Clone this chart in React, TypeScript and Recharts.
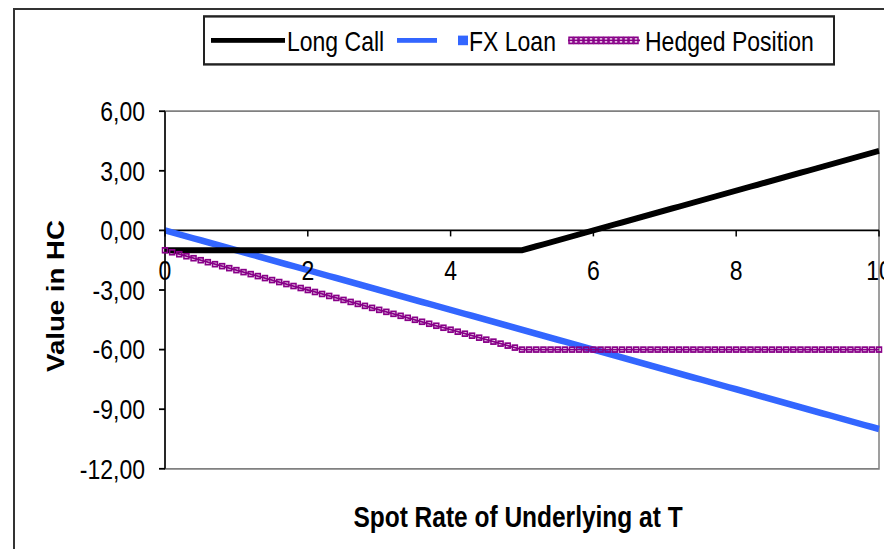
import React from "react"
import {
  LineChart,
  Line,
  XAxis,
  YAxis,
  Legend,
  ReferenceLine,
  ReferenceArea,
} from "recharts"

// spot rate of the underlying at T
const spot = [
  0, 0.1, 0.2, 0.3, 0.4, 0.5, 0.6, 0.7, 0.8, 0.9,
  1, 1.1, 1.2, 1.3, 1.4, 1.5, 1.6, 1.7, 1.8, 1.9,
  2, 2.1, 2.2, 2.3, 2.4, 2.5, 2.6, 2.7, 2.8, 2.9,
  3, 3.1, 3.2, 3.3, 3.4, 3.5, 3.6, 3.7, 3.8, 3.9,
  4, 4.1, 4.2, 4.3, 4.4, 4.5, 4.6, 4.7, 4.8, 4.9,
  5, 5.1, 5.2, 5.3, 5.4, 5.5, 5.6, 5.7, 5.8, 5.9,
  6, 6.1, 6.2, 6.3, 6.4, 6.5, 6.6, 6.7, 6.8, 6.9,
  7, 7.1, 7.2, 7.3, 7.4, 7.5, 7.6, 7.7, 7.8, 7.9,
  8, 8.1, 8.2, 8.3, 8.4, 8.5, 8.6, 8.7, 8.8, 8.9,
  9, 9.1, 9.2, 9.3, 9.4, 9.5, 9.6, 9.7, 9.8, 9.9,
  10,
]

const longCall = [
  -1, -1, -1, -1, -1, -1, -1, -1, -1, -1,
  -1, -1, -1, -1, -1, -1, -1, -1, -1, -1,
  -1, -1, -1, -1, -1, -1, -1, -1, -1, -1,
  -1, -1, -1, -1, -1, -1, -1, -1, -1, -1,
  -1, -1, -1, -1, -1, -1, -1, -1, -1, -1,
  -1, -0.9, -0.8, -0.7, -0.6, -0.5, -0.4, -0.3, -0.2, -0.1,
  0, 0.1, 0.2, 0.3, 0.4, 0.5, 0.6, 0.7, 0.8, 0.9,
  1, 1.1, 1.2, 1.3, 1.4, 1.5, 1.6, 1.7, 1.8, 1.9,
  2, 2.1, 2.2, 2.3, 2.4, 2.5, 2.6, 2.7, 2.8, 2.9,
  3, 3.1, 3.2, 3.3, 3.4, 3.5, 3.6, 3.7, 3.8, 3.9,
  4,
]

const fxLoan = [
  0, -0.1, -0.2, -0.3, -0.4, -0.5, -0.6, -0.7, -0.8, -0.9,
  -1, -1.1, -1.2, -1.3, -1.4, -1.5, -1.6, -1.7, -1.8, -1.9,
  -2, -2.1, -2.2, -2.3, -2.4, -2.5, -2.6, -2.7, -2.8, -2.9,
  -3, -3.1, -3.2, -3.3, -3.4, -3.5, -3.6, -3.7, -3.8, -3.9,
  -4, -4.1, -4.2, -4.3, -4.4, -4.5, -4.6, -4.7, -4.8, -4.9,
  -5, -5.1, -5.2, -5.3, -5.4, -5.5, -5.6, -5.7, -5.8, -5.9,
  -6, -6.1, -6.2, -6.3, -6.4, -6.5, -6.6, -6.7, -6.8, -6.9,
  -7, -7.1, -7.2, -7.3, -7.4, -7.5, -7.6, -7.7, -7.8, -7.9,
  -8, -8.1, -8.2, -8.3, -8.4, -8.5, -8.6, -8.7, -8.8, -8.9,
  -9, -9.1, -9.2, -9.3, -9.4, -9.5, -9.6, -9.7, -9.8, -9.9,
  -10,
]

const hedged = [
  -1, -1.1, -1.2, -1.3, -1.4, -1.5, -1.6, -1.7, -1.8, -1.9,
  -2, -2.1, -2.2, -2.3, -2.4, -2.5, -2.6, -2.7, -2.8, -2.9,
  -3, -3.1, -3.2, -3.3, -3.4, -3.5, -3.6, -3.7, -3.8, -3.9,
  -4, -4.1, -4.2, -4.3, -4.4, -4.5, -4.6, -4.7, -4.8, -4.9,
  -5, -5.1, -5.2, -5.3, -5.4, -5.5, -5.6, -5.7, -5.8, -5.9,
  -6, -6, -6, -6, -6, -6, -6, -6, -6, -6,
  -6, -6, -6, -6, -6, -6, -6, -6, -6, -6,
  -6, -6, -6, -6, -6, -6, -6, -6, -6, -6,
  -6, -6, -6, -6, -6, -6, -6, -6, -6, -6,
  -6, -6, -6, -6, -6, -6, -6, -6, -6, -6,
  -6,
]

const xTicks = [0, 2, 4, 6, 8, 10]
const yTicks = [-12, -9, -6, -3, 0, 3, 6]

const data = spot.map((s, i) => ({
  spot: s,
  longCall: longCall[i],
  fxLoan: fxLoan[i],
  hedged: hedged[i],
}))

const FONT = '"Liberation Sans", Arial, sans-serif'
const BLUE = "#3366FF"
const PURPLE = "#880088"

// chart box (drawn at 1/1.2 height, then stretched like the original)
const W = 884
const H = 450
const TOP = 86
const RIGHT = 13
const BOTTOM_AXIS = 60
const BOTTOM_MARGIN = 6
const PLOT_H = H - TOP - BOTTOM_AXIS - BOTTOM_MARGIN
const ZERO_Y = TOP + (PLOT_H * 6) / 18

const XTick = (props: any) => {
  const { x, payload } = props
  return (
    <g>
      <line x1={x} x2={x} y1={ZERO_Y} y2={ZERO_Y + 5} stroke="#000" strokeWidth={1.5} />
      <text
        x={x}
        y={ZERO_Y + 33}
        textAnchor="middle"
        dominantBaseline="central"
        fontFamily={FONT}
        fontSize={23}
        fill="#000"
      >
        {payload.value}
      </text>
    </g>
  )
}

const HedgedDot = (props: any) => {
  const { cx, cy, index } = props
  return (
    <rect
      key={`h-${index}`}
      x={cx - 2.5}
      y={cy - 2}
      width={5}
      height={4}
      fill="none"
      stroke={PURPLE}
      strokeWidth={1.5}
    />
  )
}

const legendText: React.CSSProperties = {
  position: "absolute",
  top: 7,
  fontFamily: FONT,
  fontSize: 23,
  lineHeight: "26px",
  color: "#000",
  whiteSpace: "nowrap",
}

const LegendBox = () => (
  <div
    style={{
      position: "relative",
      width: 632,
      height: 42,
      boxSizing: "border-box",
      border: "2px solid #222",
      background: "#fff",
    }}
  >
    <div style={{ position: "absolute", left: 6, top: 17, width: 74, height: 4, background: "#000" }} />
    <span style={{ ...legendText, left: 82 }}>Long Call</span>
    <div style={{ position: "absolute", left: 192, top: 17, width: 40, height: 4, background: BLUE }} />
    <div style={{ position: "absolute", left: 253, top: 15, width: 10, height: 8, background: BLUE }} />
    <span style={{ ...legendText, left: 264 }}>FX Loan</span>
    <svg style={{ position: "absolute", left: 363, top: 15 }} width={72} height={8}>
      <line x1={0} x2={72} y1={4} y2={4} stroke={PURPLE} strokeWidth={1.5} />
      {[0, 1, 2, 3, 4, 5, 6, 7, 8, 9, 10, 11, 12, 13].map((k) => (
        <rect key={k} x={1 + k * 5} y={1.5} width={4} height={5} fill="none" stroke={PURPLE} strokeWidth={1.5} />
      ))}
    </svg>
    <span style={{ ...legendText, left: 440 }}>Hedged Position</span>
  </div>
)

export default function App() {
  return (
    <div style={{ position: "relative", width: W, height: 541 }}>
      <div
        style={{
          position: "absolute",
          left: 5,
          top: 0,
          width: W - 5,
          height: 541,
          boxSizing: "border-box",
          borderTop: "2px solid #333",
          borderLeft: "2px solid #333",
        }}
      />
      <div
        style={{
          position: "absolute",
          left: 0,
          top: 0,
          transform: "scaleY(1.2)",
          transformOrigin: "0 0",
        }}
      >
        <LineChart
          width={W}
          height={H}
          data={data}
          margin={{ top: TOP, right: RIGHT, bottom: BOTTOM_MARGIN, left: 0 }}
        >
          <ReferenceArea
            x1={0}
            x2={10}
            y1={-12}
            y2={6}
            fill="none"
            stroke="#808080"
            strokeWidth={1.5}
          />
          <XAxis
            dataKey="spot"
            type="number"
            domain={[0, 10]}
            ticks={xTicks}
            axisLine={false}
            tickLine={false}
            height={BOTTOM_AXIS}
            tick={<XTick />}
            label={{
              value: "Spot Rate of Underlying at T",
              position: "center",
              dx: -4,
              dy: 10,
              fontFamily: FONT,
              fontSize: 24.5,
              fontWeight: "bold",
              fill: "#000",
            }}
          />
          <YAxis
            type="number"
            domain={[-12, 6]}
            ticks={yTicks}
            width={157}
            stroke="#000"
            strokeWidth={1.5}
            tickSize={6}
            tickMargin={14}
            tick={{ fontFamily: FONT, fontSize: 23, fill: "#000" }}
            tickFormatter={(v: number) => v.toFixed(2).replace(".", ",")}
            label={{
              value: "Value in HC",
              angle: -90,
              position: "center",
              dx: -31,
              dy: 5,
              fontFamily: FONT,
              fontSize: 23,
              fontWeight: "bold",
              fill: "#000",
            }}
          />
          <ReferenceLine y={0} stroke="#000" strokeWidth={1.5} />
          <Legend
            layout="horizontal"
            verticalAlign="middle"
            align="center"
            width={632}
            height={42}
            wrapperStyle={{ top: 6, left: 195, width: 632, height: 42 }}
            content={() => <LegendBox />}
          />
          <Line
            type="linear"
            dataKey="fxLoan"
            name="FX Loan"
            stroke={BLUE}
            strokeWidth={5.5}
            dot={false}
            isAnimationActive={false}
          />
          <Line
            type="linear"
            dataKey="hedged"
            name="Hedged Position"
            stroke={PURPLE}
            strokeWidth={1.5}
            dot={HedgedDot}
            isAnimationActive={false}
          />
          <Line
            type="linear"
            dataKey="longCall"
            name="Long Call"
            stroke="#000"
            strokeWidth={5}
            dot={false}
            isAnimationActive={false}
          />
        </LineChart>
      </div>
    </div>
  )
}
